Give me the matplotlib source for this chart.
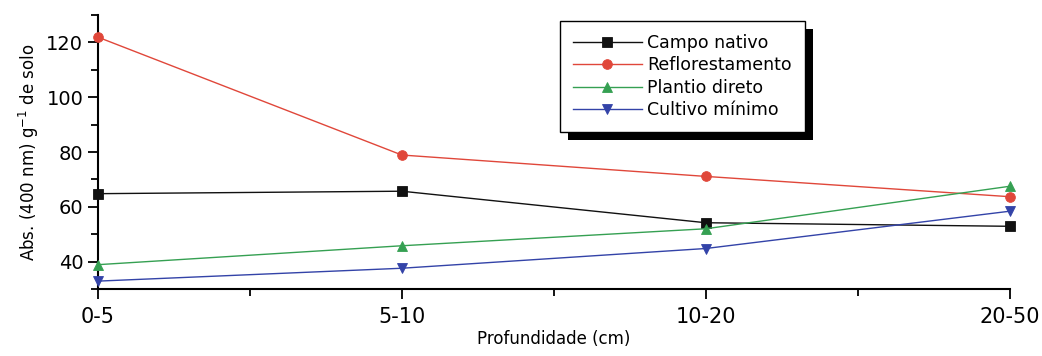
import matplotlib
matplotlib.use('Agg')
import matplotlib.pyplot as plt
from matplotlib.patches import Rectangle
from matplotlib.ticker import MultipleLocator

# dados
profundidades = ['0-5', '5-10', '10-20', '20-50']
campo_nativo = [64.8, 65.7, 54.2, 52.9]
reflorestamento = [121.9, 78.9, 71.1, 63.7]
plantio_direto = [38.9, 45.8, 52.0, 67.5]
cultivo_minimo = [32.9, 37.6, 44.8, 58.4]

series = [
    ('Campo nativo', campo_nativo, '#111111', 's'),
    ('Reflorestamento', reflorestamento, '#e0473a', 'o'),
    ('Plantio direto', plantio_direto, '#35a052', '^'),
    ('Cultivo mínimo', cultivo_minimo, '#3343a8', 'v'),
]

plt.rcParams['font.family'] = ['DejaVu Sans']

fig = plt.figure(figsize=(10.42, 3.56), dpi=100)
ax = fig.add_axes([0.094, 0.188, 0.875, 0.770])

x = list(range(len(profundidades)))
for nome, vals, cor, mk in series:
    ax.plot(x, vals, color=cor, marker=mk, markersize=7, linewidth=1.0,
            markeredgewidth=0.6, label=nome, clip_on=False, zorder=3)

ax.set_xlim(0, 3)
ax.set_ylim(30, 130)
ax.set_xticks(x)
ax.set_xticklabels(profundidades, fontsize=15)
ax.xaxis.set_minor_locator(MultipleLocator(0.5))
ax.yaxis.set_minor_locator(MultipleLocator(10))
ax.set_yticks([40, 60, 80, 100, 120])
ax.tick_params(axis='y', labelsize=14, length=7, width=1.3, direction='out')
ax.tick_params(axis='x', length=7, width=1.3, direction='out', pad=6)
ax.tick_params(which='minor', length=5, width=1.3)

for s in ['top', 'right']:
    ax.spines[s].set_visible(False)
for s in ['left', 'bottom']:
    ax.spines[s].set_linewidth(1.5)

ax.set_xlabel('Profundidade (cm)', fontsize=12, labelpad=2)
ax.set_ylabel('Abs. (400 nm) g$^{-1}$ de solo', fontsize=12, labelpad=4)

leg = fig.legend(loc='upper left', bbox_to_anchor=(0.537, 0.941),
                 borderaxespad=0, fontsize=12.5, handlelength=4.0,
                 handletextpad=0.3, labelspacing=0.25, frameon=True,
                 fancybox=False, borderpad=0.75, framealpha=1)
leg.get_frame().set_edgecolor('black')
leg.get_frame().set_facecolor('white')
leg.get_frame().set_linewidth(1.0)
leg.set_zorder(5)

# sombra preta do quadro da legenda
fig.canvas.draw()
bb = leg.get_window_extent().transformed(fig.transFigure.inverted())
dx, dy = 8 / 1042, 8 / 356
fig.patches.append(Rectangle((bb.x0 + dx, bb.y0 - dy), bb.width, bb.height,
                             transform=fig.transFigure, facecolor='black',
                             edgecolor='none', zorder=4))

fig.savefig('out.png', dpi=100)
